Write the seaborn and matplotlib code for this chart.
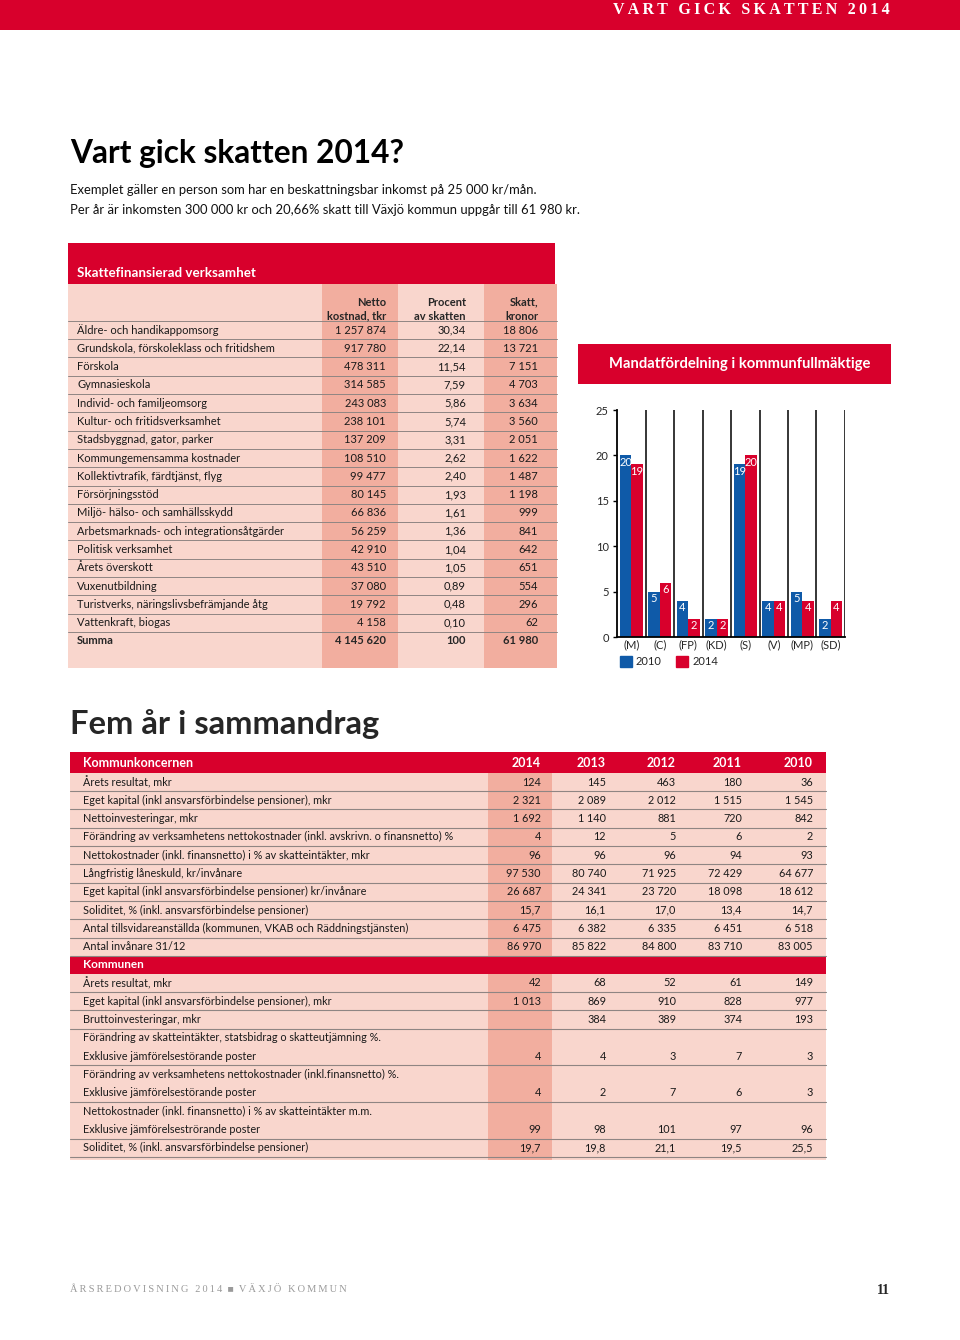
import numpy as np
import pandas as pd
import matplotlib
matplotlib.use("Agg")
import matplotlib.pyplot as plt
import seaborn as sns
from matplotlib.patches import Rectangle, Patch

# ------------------------------------------------------------
# Data
# ------------------------------------------------------------
verksamheter = [
    "Äldre- och handikappomsorg",
    "Grundskola, förskoleklass och fritidshem",
    "Förskola",
    "Gymnasieskola",
    "Individ- och familjeomsorg",
    "Kultur- och fritidsverksamhet",
    "Stadsbyggnad, gator, parker",
    "Kommungemensamma kostnader",
    "Kollektivtrafik, färdtjänst, flyg",
    "Försörjningsstöd",
    "Miljö- hälso- och samhällsskydd",
    "Arbetsmarknads- och integrationsåtgärder",
    "Politisk verksamhet",
    "Årets överskott",
    "Vuxenutbildning",
    "Turistverks, näringslivsbefrämjande åtg",
    "Vattenkraft, biogas",
]
netto_tkr = [1257874, 917780, 478311, 314585, 243083, 238101, 137209, 108510,
             99477, 80145, 66836, 56259, 42910, 43510, 37080, 19792, 4158]
procent_skatt = [30.34, 22.14, 11.54, 7.59, 5.86, 5.74, 3.31, 2.62,
                 2.40, 1.93, 1.61, 1.36, 1.04, 1.05, 0.89, 0.48, 0.10]
skatt_kronor = [18806, 13721, 7151, 4703, 3634, 3560, 2051, 1622,
                1487, 1198, 999, 841, 642, 651, 554, 296, 62]
summa_netto = 4145620
summa_procent = 100
summa_skatt = 61980

partier = ["(M)", "(C)", "(FP)", "(KD)", "(S)", "(V)", "(MP)", "(SD)"]
mandat_2010 = [20, 5, 4, 2, 19, 4, 5, 2]
mandat_2014 = [19, 6, 2, 2, 20, 4, 4, 4]

år = [2014, 2013, 2012, 2011, 2010]

koncern_rader = [
    "Årets resultat, mkr",
    "Eget kapital (inkl ansvarsförbindelse pensioner), mkr",
    "Nettoinvesteringar, mkr",
    "Förändring av verksamhetens nettokostnader (inkl. avskrivn. o finansnetto) %",
    "Nettokostnader (inkl. finansnetto) i % av skatteintäkter, mkr",
    "Långfristig låneskuld, kr/invånare",
    "Eget kapital (inkl ansvarsförbindelse pensioner) kr/invånare",
    "Soliditet, % (inkl. ansvarsförbindelse pensioner)",
    "Antal tillsvidareanställda (kommunen, VKAB och Räddningstjänsten)",
    "Antal invånare 31/12",
]
koncern_2014 = [124, 2321, 1692, 4, 96, 97530, 26687, 15.7, 6475, 86970]
koncern_2013 = [145, 2089, 1140, 12, 96, 80740, 24341, 16.1, 6382, 85822]
koncern_2012 = [463, 2012, 881, 5, 96, 71925, 23720, 17.0, 6335, 84800]
koncern_2011 = [180, 1515, 720, 6, 94, 72429, 18098, 13.4, 6451, 83710]
koncern_2010 = [36, 1545, 842, 2, 93, 64677, 18612, 14.7, 6518, 83005]

kommun_rader = [
    "Årets resultat, mkr",
    "Eget kapital (inkl ansvarsförbindelse pensioner), mkr",
    "Bruttoinvesteringar, mkr",
    "Förändring av skatteintäkter, statsbidrag o skatteutjämning %.",
    "Exklusive jämförelsestörande poster",
    "Förändring av verksamhetens nettokostnader (inkl.finansnetto) %.",
    "Exklusive jämförelsestörande poster",
    "Nettokostnader (inkl. finansnetto) i % av skatteintäkter m.m.",
    "Exklusive jämförelseströrande poster",
    "Soliditet, % (inkl. ansvarsförbindelse pensioner)",
]
kommun_2014 = [42, 1013, None, None, 4, None, 4, None, 99, 19.7]
kommun_2013 = [68, 869, 384, None, 4, None, 2, None, 98, 19.8]
kommun_2012 = [52, 910, 389, None, 3, None, 7, None, 101, 21.1]
kommun_2011 = [61, 828, 374, None, 7, None, 6, None, 97, 19.5]
kommun_2010 = [149, 977, 193, None, 3, None, 3, None, 96, 25.5]
# rader utan linje under (rubrikrad som fortsätter på nästa rad)
kommun_ingen_linje = [3, 5, 7]

# ------------------------------------------------------------
# Stil
# ------------------------------------------------------------
RED = "#d8002c"
PINK = "#f9d6cd"
PINK_DARK = "#f2ae9f"
BLUE = "#0f5aa8"
LINE = "#8f8583"

sns.set_theme(style="white")
SANS = ["Lato", "DejaVu Sans"]
SERIF = ["Liberation Serif", "DejaVu Serif"]
plt.rcParams["font.family"] = SANS


def fmt(v, dec=1):
    if v is None:
        return ""
    if isinstance(v, int):
        return f"{v:,}".replace(",", " ")
    return f"{v:.{dec}f}".replace(".", ",")


def spärrad(s):
    # bokstäverna med smalt mellanrum, som i sidhuvudet
    return "\u2009".join(s)


fig = plt.figure(figsize=(9.6, 13.4), dpi=100)
bg = fig.add_axes([0, 0, 1, 1])
bg.set_xlim(0, 960)
bg.set_ylim(1340, 0)
bg.axis("off")

# ------------------------------------------------------------
# Sidhuvud och rubriker
# ------------------------------------------------------------
bg.add_patch(Rectangle((0, 0), 960, 30, color=RED, lw=0))
bg.text(890, 10, spärrad("VART GICK SKATTEN 2014"), color="white", fontsize=11.5,
        family=SERIF, ha="right", va="center", fontweight="bold")

bg.text(70, 153, "Vart gick skatten 2014?", fontsize=22.8, fontweight="bold",
        va="center", ha="left", color="black")
bg.text(70, 190, "Exemplet gäller en person som har en beskattningsbar inkomst på 25 000 kr/mån.",
        fontsize=9.4, va="center", color="#111111")
bg.text(70, 210, "Per år är inkomsten 300 000 kr och 20,66% skatt till Växjö kommun uppgår till 61 980 kr.",
        fontsize=9.4, va="center", color="#111111")

# ------------------------------------------------------------
# Tabell 1: Skattefinansierad verksamhet
# ------------------------------------------------------------
t_left, t_right = 68, 557
bg.add_patch(Rectangle((t_left, 243), 555 - t_left, 41, color=RED, lw=0))
bg.text(77, 273, "Skattefinansierad verksamhet", color="white", fontsize=9.6,
        fontweight="bold", va="center")
bg.add_patch(Rectangle((t_left, 284), t_right - t_left, 384, color=PINK, lw=0))
bg.add_patch(Rectangle((322, 284), 76, 384, color=PINK_DARK, lw=0))
bg.add_patch(Rectangle((484, 284), t_right - 484, 384, color=PINK_DARK, lw=0))

col_x = [386, 466, 538]
headers = [("Netto", "kostnad, tkr"), ("Procent", "av skatten"), ("Skatt,", "kronor")]
for x, (h1, h2) in zip(col_x, headers):
    bg.text(x, 302, h1, fontsize=8, fontweight="bold", ha="right", va="center")
    bg.text(x, 316, h2, fontsize=8, fontweight="bold", ha="right", va="center")

row_h = 18.29
y0 = 330
for i, namn in enumerate(verksamheter):
    y = y0 + i * row_h
    bg.plot([t_left, t_right], [y - 9.1, y - 9.1], color=LINE, lw=0.7)
    bg.text(77, y, namn, fontsize=8, va="center", color="#1a1a1a")
    bg.text(col_x[0], y, fmt(netto_tkr[i]), fontsize=8, va="center", ha="right", color="#1a1a1a")
    bg.text(col_x[1], y, fmt(procent_skatt[i], 2), fontsize=8, va="center", ha="right", color="#1a1a1a")
    bg.text(col_x[2], y, fmt(skatt_kronor[i]), fontsize=8, va="center", ha="right", color="#1a1a1a")
y = y0 + len(verksamheter) * row_h
bg.plot([t_left, t_right], [y - 9.1, y - 9.1], color=LINE, lw=0.7)
bg.text(77, y, "Summa", fontsize=8, va="center", fontweight="bold")
bg.text(col_x[0], y, fmt(summa_netto), fontsize=8, va="center", ha="right", fontweight="bold")
bg.text(col_x[1], y, fmt(summa_procent), fontsize=8, va="center", ha="right", fontweight="bold")
bg.text(col_x[2], y, fmt(summa_skatt), fontsize=8, va="center", ha="right", fontweight="bold")

# ------------------------------------------------------------
# Stapeldiagram: Mandatfördelning
# ------------------------------------------------------------
bg.add_patch(Rectangle((578, 344), 313, 40, color=RED, lw=0))
bg.text(740, 364, "Mandatfördelning i kommunfullmäktige", color="white", fontsize=10.6,
        fontweight="bold", ha="center", va="center")

mandat = pd.DataFrame({
    "parti": partier * 2,
    "mandat": mandat_2010 + mandat_2014,
    "år": ["2010"] * len(partier) + ["2014"] * len(partier),
})

ax = fig.add_axes([617 / 960, 1 - 637 / 1340, 228 / 960, 227 / 1340])
sns.barplot(data=mandat, x="parti", y="mandat", hue="år", palette=[BLUE, RED],
            width=0.8, saturation=1, ax=ax, legend=False, edgecolor="none")
ax.set_xlim(-0.5, len(partier) - 0.5)
ax.set_ylim(0, 25)
ax.set_yticks([0, 5, 10, 15, 20, 25])
ax.set_xlabel("")
ax.set_ylabel("")
ax.vlines(np.arange(len(partier)) + 0.5, 0, 25, color="black", lw=1.1, zorder=3)
for side in ["top", "right"]:
    ax.spines[side].set_visible(False)
for side in ["left", "bottom"]:
    ax.spines[side].set_color("black")
    ax.spines[side].set_linewidth(1.3)
ax.tick_params(axis="y", length=3, width=1, color="black", labelsize=8, pad=3, left=True)
ax.tick_params(axis="x", length=0, labelsize=8, pad=2)
ax.set_facecolor("white")
for cont in ax.containers:
    for bar in cont:
        h = bar.get_height()
        ax.annotate(f"{int(h)}", (bar.get_x() + bar.get_width() / 2, h),
                    xytext=(0, -1), textcoords="offset points", ha="center", va="top",
                    color="white", fontsize=8)
ax.legend(handles=[Patch(color=BLUE, label="2010"), Patch(color=RED, label="2014")],
          loc="upper left", bbox_to_anchor=(0.012, -0.085), ncol=2, frameon=False,
          fontsize=8, handlelength=1.1, handleheight=1.1, handletextpad=0.35,
          columnspacing=1.3, borderaxespad=0, borderpad=0)

# ------------------------------------------------------------
# Tabell 2: Fem år i sammandrag
# ------------------------------------------------------------
bg.text(70, 724, "Fem år i sammandrag", fontsize=23.6, fontweight="bold", va="center")

s_left, s_right = 70, 826
år_x = [541, 606, 676, 742, 813]
bg.add_patch(Rectangle((s_left, 773), s_right - s_left, 387, color=PINK, lw=0))
bg.add_patch(Rectangle((488, 773), 64, 387, color=PINK_DARK, lw=0))
bg.add_patch(Rectangle((s_left, 752), s_right - s_left, 21, color=RED, lw=0))
bg.text(83, 763, "Kommunkoncernen", color="white", fontsize=9, fontweight="bold", va="center")
for x, a in zip(år_x, år):
    bg.text(x, 763, str(a), color="white", fontsize=9, fontweight="bold", ha="right", va="center")

koncern_kol = [koncern_2014, koncern_2013, koncern_2012, koncern_2011, koncern_2010]
for i, namn in enumerate(koncern_rader):
    y = 782 + i * row_h
    bg.text(83, y, namn, fontsize=7.8, va="center", color="#1a1a1a")
    for x, kol in zip(år_x, koncern_kol):
        bg.text(x, y, fmt(kol[i]), fontsize=7.8, va="center", ha="right", color="#1a1a1a")
    bg.plot([s_left, s_right], [y + 9.2, y + 9.2], color=LINE, lw=0.8)

bg.add_patch(Rectangle((s_left, 956.5), s_right - s_left, 17.5, color=RED, lw=0))
bg.text(83, 965, "Kommunen", color="white", fontsize=8.5, fontweight="bold", va="center")

kommun_kol = [kommun_2014, kommun_2013, kommun_2012, kommun_2011, kommun_2010]
for i, namn in enumerate(kommun_rader):
    y = 983 + i * row_h
    bg.text(83, y, namn, fontsize=7.8, va="center", color="#1a1a1a")
    for x, kol in zip(år_x, kommun_kol):
        bg.text(x, y, fmt(kol[i]), fontsize=7.8, va="center", ha="right", color="#1a1a1a")
    if i not in kommun_ingen_linje:
        bg.plot([s_left, s_right], [y + 9.2, y + 9.2], color=LINE, lw=0.8)

# ------------------------------------------------------------
# Sidfot
# ------------------------------------------------------------
bg.text(70, 1290, spärrad("ÅRSREDOVISNING 2014") + "  \u25A0  " + spärrad("VÄXJÖ KOMMUN"),
        fontsize=7.5, family=SERIF, color="#9a9a9a", va="center")
bg.text(883, 1290, "11", fontsize=10, family=SERIF, fontweight="bold", ha="center", va="center")

fig.savefig("out.png", dpi=100)
